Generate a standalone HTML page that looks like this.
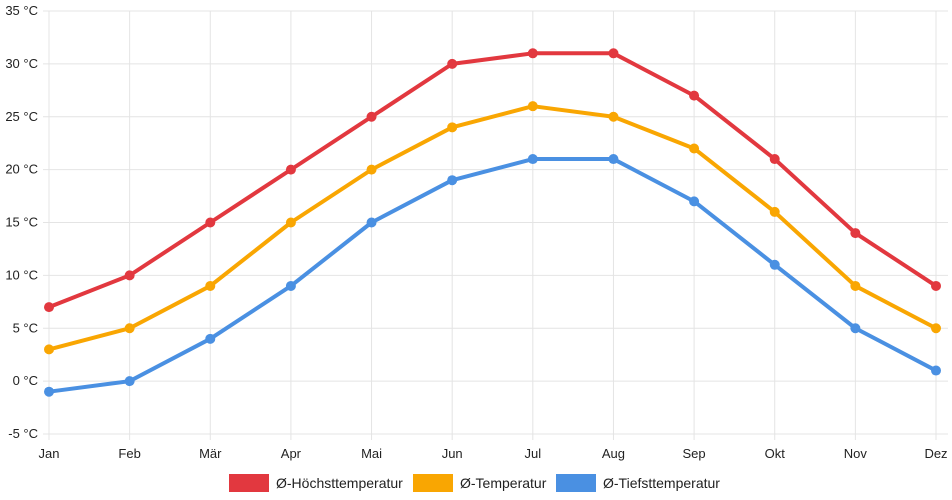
<!DOCTYPE html>
<html><head><meta charset="utf-8"><style>
body{margin:0;background:#fff;}
svg{display:block;font-family:"Liberation Sans",sans-serif;}
</style></head><body>
<svg id="chart" width="952" height="500"></svg>
<script>
const months=["Jan","Feb","Mär","Apr","Mai","Jun","Jul","Aug","Sep","Okt","Nov","Dez"];
const highTemps=[7,10,15,20,25,30,31,31,27,21,14,9];
const meanTemps=[3,5,9,15,20,24,26,25,22,16,9,5];
const lowTemps=[-1,0,4,9,15,19,21,21,17,11,5,1];
const yTicks=[-5,0,5,10,15,20,25,30,35];
const seriesNames=["Ø-Höchsttemperatur","Ø-Temperatur","Ø-Tiefsttemperatur"];
const colors=["#e2383f","#f9a602","#4a90e2"];
const NS="http://www.w3.org/2000/svg";
const svg=document.getElementById('chart');
const x0=49,x1=936,yTop=11,yBot=434,vMin=-5,vMax=35;
const xS=i=>x0+i*(x1-x0)/(months.length-1);
const yS=v=>yBot-(v-vMin)*(yBot-yTop)/(vMax-vMin);
function mk(t,a){const e=document.createElementNS(NS,t);for(const k in a)e.setAttribute(k,a[k]);svg.appendChild(e);return e;}
yTicks.forEach(v=>{
  const l=mk('line',{x1:x0-6,x2:x1+12,y1:yS(v),y2:yS(v),stroke:'#e4e4e4','stroke-width':1});
  
  
  const t=mk('text',{x:38,y:yS(v)+4,'text-anchor':'end','font-size':13,fill:'#222'});
  t.textContent=v+' °C';
  
  
});
months.forEach((m,i)=>{
  const l=mk('line',{x1:xS(i),x2:xS(i),y1:yTop,y2:yBot+6,stroke:'#e4e4e4','stroke-width':1});
  
  
  const t=mk('text',{x:xS(i),y:458,'text-anchor':'middle','font-size':13,fill:'#222'});
  t.textContent=m;
  
  
});
[highTemps,meanTemps,lowTemps].forEach((s,k)=>{
  const p=mk('polyline',{points:s.map((v,i)=>xS(i)+','+yS(v)).join(' '),fill:'none',stroke:colors[k],'stroke-width':4,'stroke-linejoin':'round'});
  
  
  s.forEach((v,i)=>{
    const c=mk('circle',{cx:xS(i),cy:yS(v),r:5,fill:colors[k]});
    
    
  });
});
const legX=[229,413,556];
seriesNames.forEach((n,k)=>{
  const r=mk('rect',{x:legX[k],y:474,width:40,height:18,fill:colors[k]});
  
  
  const t=mk('text',{x:legX[k]+47,y:488,'font-size':14,fill:'#222'});
  t.textContent=n;
  
  
});
</script>
</body></html>
